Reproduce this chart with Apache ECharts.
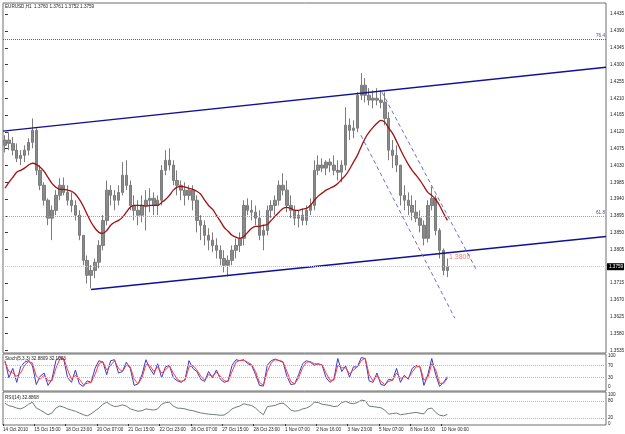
<!DOCTYPE html>
<html>
<head>
<meta charset="utf-8">
<script src="https://cdn.jsdelivr.net/npm/echarts@6/dist/echarts.min.js"></script>
<style>
  html, body { margin: 0; padding: 0; background: #fff; }
  #main { width: 625px; height: 434px; }
</style>
</head>
<body>
<div id="main"></div>
<script>
// EURUSD H1, 14 Oct - 10 Nov 2010, one point per 4 bars

const opens = [1.4084, 1.4098, 1.4089, 1.4071, 1.4049, 1.4057, 1.4071, 1.4092, 1.4124, 1.4017,
  1.3977, 1.3937, 1.3889, 1.3910, 1.3950, 1.3977, 1.3958, 1.3937, 1.3923, 1.3897,
  1.3843, 1.3776, 1.3736, 1.3749, 1.3771, 1.3816, 1.3883, 1.3964, 1.3950, 1.3937,
  1.3958, 1.4004, 1.3977, 1.3923, 1.3910, 1.3897, 1.3923, 1.3937, 1.3942, 1.3923,
  1.3937, 1.4017, 1.4044, 1.4031, 1.3990, 1.3977, 1.3964, 1.3950, 1.3964, 1.3937,
  1.3883, 1.3870, 1.3843, 1.3830, 1.3816, 1.3803, 1.3781, 1.3763, 1.3776, 1.3803,
  1.3816, 1.3835, 1.3923, 1.3910, 1.3905, 1.3889, 1.3843, 1.3856, 1.3910, 1.3923,
  1.3937, 1.3977, 1.3964, 1.3923, 1.3910, 1.3889, 1.3897, 1.3883, 1.3910, 1.3923,
  1.4017, 1.4031, 1.4023, 1.4039, 1.4031, 1.4017, 1.4012, 1.4031, 1.4138, 1.4124,
  1.4130, 1.4218, 1.4245, 1.4218, 1.4205, 1.4210, 1.4205, 1.4199, 1.4156, 1.4071,
  1.4057, 1.4031, 1.3950, 1.3937, 1.3923, 1.3905, 1.3889, 1.3870, 1.3835, 1.3923,
  1.3942, 1.3856, 1.3803, 1.3749]

const closes = [1.4098, 1.4089, 1.4071, 1.4049, 1.4057, 1.4071, 1.4092, 1.4124, 1.4017, 1.3977,
  1.3937, 1.3889, 1.3910, 1.3950, 1.3977, 1.3958, 1.3937, 1.3923, 1.3897, 1.3843,
  1.3776, 1.3736, 1.3749, 1.3771, 1.3816, 1.3883, 1.3964, 1.3950, 1.3937, 1.3958,
  1.4004, 1.3977, 1.3923, 1.3910, 1.3897, 1.3923, 1.3937, 1.3942, 1.3923, 1.3937,
  1.4017, 1.4044, 1.4031, 1.3990, 1.3977, 1.3964, 1.3950, 1.3964, 1.3937, 1.3883,
  1.3870, 1.3843, 1.3830, 1.3816, 1.3803, 1.3781, 1.3763, 1.3776, 1.3803, 1.3816,
  1.3835, 1.3923, 1.3910, 1.3905, 1.3889, 1.3843, 1.3856, 1.3910, 1.3923, 1.3937,
  1.3977, 1.3964, 1.3923, 1.3910, 1.3889, 1.3897, 1.3883, 1.3910, 1.3923, 1.4017,
  1.4031, 1.4023, 1.4039, 1.4031, 1.4017, 1.4012, 1.4031, 1.4138, 1.4124, 1.4130,
  1.4218, 1.4245, 1.4218, 1.4205, 1.4210, 1.4205, 1.4199, 1.4156, 1.4071, 1.4057,
  1.4031, 1.3950, 1.3937, 1.3923, 1.3905, 1.3889, 1.3870, 1.3835, 1.3923, 1.3942,
  1.3856, 1.3803, 1.3749, 1.3759]

const highs = [1.4111, 1.4119, 1.4106, 1.4089, 1.4071, 1.4084, 1.4103, 1.4156, 1.4130, 1.4031,
  1.3985, 1.3942, 1.3923, 1.3964, 1.3996, 1.3998, 1.3977, 1.3958, 1.3937, 1.3910,
  1.3843, 1.3789, 1.3763, 1.3781, 1.3830, 1.3897, 1.3990, 1.3977, 1.3964, 1.3977,
  1.4039, 1.4044, 1.3990, 1.3950, 1.3937, 1.3950, 1.3964, 1.3969, 1.3958, 1.3950,
  1.4031, 1.4071, 1.4076, 1.4044, 1.4017, 1.3990, 1.3985, 1.3977, 1.3977, 1.3950,
  1.3897, 1.3883, 1.3862, 1.3851, 1.3835, 1.3816, 1.3803, 1.3789, 1.3816, 1.3835,
  1.3851, 1.3937, 1.3942, 1.3937, 1.3923, 1.3910, 1.3870, 1.3923, 1.3937, 1.3950,
  1.3990, 1.4009, 1.3990, 1.3950, 1.3923, 1.3910, 1.3915, 1.3923, 1.3942, 1.4044,
  1.4057, 1.4049, 1.4044, 1.4049, 1.4057, 1.4044, 1.4044, 1.4186, 1.4156, 1.4151,
  1.4226, 1.4277, 1.4264, 1.4237, 1.4231, 1.4237, 1.4231, 1.4226, 1.4173, 1.4098,
  1.4084, 1.4031, 1.3977, 1.3958, 1.3950, 1.3937, 1.3910, 1.3883, 1.3937, 1.3974,
  1.3950, 1.3862, 1.3808, 1.3781]

const lows = [1.4065, 1.4071, 1.4057, 1.4039, 1.4031, 1.4039, 1.4057, 1.4076, 1.4004, 1.3964,
  1.3923, 1.3870, 1.3830, 1.3897, 1.3937, 1.3950, 1.3923, 1.3905, 1.3883, 1.3830,
  1.3763, 1.3714, 1.3701, 1.3728, 1.3755, 1.3803, 1.3870, 1.3923, 1.3910, 1.3923,
  1.3950, 1.3964, 1.3910, 1.3883, 1.3870, 1.3878, 1.3856, 1.3905, 1.3897, 1.3897,
  1.3923, 1.4004, 1.4017, 1.3977, 1.3950, 1.3937, 1.3923, 1.3937, 1.3910, 1.3851,
  1.3830, 1.3816, 1.3803, 1.3798, 1.3781, 1.3763, 1.3744, 1.3733, 1.3763, 1.3781,
  1.3798, 1.3816, 1.3897, 1.3883, 1.3870, 1.3830, 1.3803, 1.3843, 1.3889, 1.3897,
  1.3923, 1.3950, 1.3905, 1.3889, 1.3870, 1.3864, 1.3870, 1.3870, 1.3897, 1.3910,
  1.4004, 1.4012, 1.4004, 1.4012, 1.4004, 1.3990, 1.3985, 1.4017, 1.4098, 1.4103,
  1.4119, 1.4205, 1.4199, 1.4191, 1.4183, 1.4191, 1.4183, 1.4138, 1.4044, 1.4023,
  1.4012, 1.3923, 1.3910, 1.3897, 1.3883, 1.3878, 1.3851, 1.3816, 1.3824, 1.3910,
  1.3843, 1.3781, 1.3736, 1.3731]

// moving average (dark red)
const ma = [1.3969, 1.3985, 1.3998, 1.4012, 1.4017, 1.4023, 1.4031, 1.4036, 1.4033, 1.4025,
  1.4014, 1.3998, 1.3982, 1.3972, 1.3966, 1.3966, 1.3964, 1.3961, 1.3953, 1.3939,
  1.3921, 1.3899, 1.3878, 1.3862, 1.3851, 1.3848, 1.3856, 1.3870, 1.3878, 1.3883,
  1.3891, 1.3905, 1.3918, 1.3923, 1.3923, 1.3923, 1.3921, 1.3923, 1.3923, 1.3923,
  1.3931, 1.3939, 1.3950, 1.3964, 1.3972, 1.3974, 1.3972, 1.3969, 1.3966, 1.3961,
  1.3953, 1.3937, 1.3923, 1.3913, 1.3897, 1.3881, 1.3864, 1.3854, 1.3843, 1.3838,
  1.3835, 1.3840, 1.3851, 1.3862, 1.3867, 1.3867, 1.3870, 1.3872, 1.3883, 1.3894,
  1.3905, 1.3915, 1.3918, 1.3915, 1.3910, 1.3910, 1.3913, 1.3915, 1.3923, 1.3937,
  1.3948, 1.3956, 1.3964, 1.3969, 1.3974, 1.3982, 1.3993, 1.4004, 1.4020, 1.4039,
  1.4057, 1.4081, 1.4103, 1.4119, 1.4132, 1.4143, 1.4151, 1.4146, 1.4130, 1.4116,
  1.4095, 1.4073, 1.4052, 1.4033, 1.4017, 1.4004, 1.3990, 1.3974, 1.3958, 1.3950,
  1.3939, 1.3923, 1.3902, 1.3883]

const stochK = [85, 30, 60, 15, 65, 80, 85, 70, 8, 35,
  45, 5, 25, 85, 98, 90, 30, 15, 55, 10,
  2, 20, 15, 60, 85, 80, 40, 85, 88, 45,
  50, 80, 60, 5, 10, 40, 88, 60, 40, 75,
  30, 65, 70, 30, 20, 15, 25, 85, 60, 50,
  25, 18, 50, 30, 55, 25, 15, 20, 70, 88,
  85, 88, 75, 70, 40, 5, 3, 70, 85, 90,
  85, 80, 35, 8, 10, 40, 75, 85, 80, 70,
  75, 70, 30, 15, 25, 92, 50, 68, 32, 65,
  65, 95, 92, 20, 15, 45, 8, 5, 25, 22,
  60, 15, 38, 25, 60, 70, 65, 5, 40, 92,
  40, 2, 15, 33]

const stochD = [80, 50, 45, 35, 45, 70, 82, 78, 35, 25,
  38, 20, 20, 60, 90, 93, 55, 25, 38, 25,
  8, 12, 15, 40, 75, 82, 55, 70, 85, 60,
  50, 70, 65, 25, 10, 30, 72, 70, 50, 65,
  45, 55, 68, 45, 25, 18, 22, 65, 70, 55,
  35, 22, 40, 35, 48, 35, 20, 18, 50, 80,
  86, 86, 80, 72, 50, 15, 5, 50, 78, 88,
  86, 82, 50, 18, 10, 30, 62, 80, 82, 75,
  74, 72, 45, 22, 22, 70, 62, 62, 42, 55,
  65, 85, 93, 40, 20, 35, 18, 8, 18, 22,
  45, 28, 32, 28, 48, 65, 66, 22, 30, 75,
  55, 12, 12, 28]

const rsi = [72, 63, 60, 55, 52, 58, 68, 75, 55, 48,
  40, 32, 38, 55, 62, 58, 52, 48, 44, 38,
  32, 28, 35, 45, 55, 68, 75, 66, 60, 62,
  66, 62, 52, 48, 44, 46, 52, 50, 48, 52,
  68, 74, 75, 62, 55, 54, 52, 48, 46, 42,
  38, 36, 34, 33, 32, 30, 31, 40, 52, 58,
  62, 70, 66, 64, 55, 42, 32, 60, 62, 64,
  70, 72, 62, 48, 44, 46, 52, 55, 62, 75,
  74, 68, 66, 64, 60, 62, 74, 78, 72, 70,
  74, 82, 80, 62, 60, 58, 56, 48, 34, 36,
  38, 32, 34, 36, 38, 40, 37, 35, 52, 55,
  40, 30, 28, 33]

// time labels, one every 8 points (32 hours)
const timeLabels = ['14 Oct 2010', '15 Oct 15:00', '18 Oct 23:00', '20 Oct 07:00', '21 Oct 15:00',
  '22 Oct 23:00', '26 Oct 07:00', '27 Oct 15:00', '28 Oct 23:00', '1 Nov 07:00',
  '2 Nov 16:00', '3 Nov 23:00', '5 Nov 07:00', '8 Nov 16:00', '10 Nov 00:00']

// 1.3760 sits under the last-price box, so it is left out
const priceTicks = [1.3535, 1.3580, 1.3625, 1.3670, 1.3715, 1.3805, 1.3850, 1.3895, 1.3940,
  1.3985, 1.4030, 1.4075, 1.4120, 1.4165, 1.4210, 1.4255, 1.4300, 1.4345, 1.4390, 1.4435]
const stochTicks = [0, 30, 70, 100]
const rsiTicks = [0, 20, 80, 100]

// drawn objects, in [bar, price]
const channelUpper = [[-0.5, 1.4122], [153.5, 1.4293]]
const channelLower = [[22, 1.3698], [153.5, 1.3840]]
const dashUpper = [[96.3, 1.4226], [120.6, 1.3747]]
const dashLower = [[90.9, 1.4111], [114.9, 1.3621]]
const fibo = [{ name: '76.4', price: 1.4368 }, { name: '61.8', price: 1.3894 }]
const lastPrice = 1.3759
const note = { at: [113.4, 1.3784], text: '1.3800' }

const xMin = -0.5
const xMax = 153.5
const font = 'Liberation Sans'
const small = { fontFamily: font, fontSize: 4.6, color: '#1a1a1a' }

const chart = echarts.init(document.getElementById('main'))

const xAxisFor = (g, withLabels) => ({
  type: 'value', gridIndex: g, min: xMin, max: xMax,
  axisLine: { show: false },
  splitLine: { show: false },
  axisTick: withLabels
    ? { show: true, length: 2, customValues: timeLabels.map((_, k) => k * 8 - 0.5), lineStyle: { color: '#333' } }
    : { show: false },
  axisLabel: withLabels
    ? {
        show: true, ...small, align: 'left', margin: 2,
        customValues: timeLabels.map((_, k) => k * 8 - 0.5),
        formatter: v => timeLabels[Math.round((v + 0.5) / 8)] || ''
      }
    : { show: false }
})

const pairs = arr => arr.map((v, i) => [i, v])
const levelLines = levels => ({
  silent: true, symbol: 'none', precision: 4,
  label: { show: false },
  lineStyle: { type: 'dotted', color: '#b8b8b8', width: 1 },
  data: levels.map(v => ({ yAxis: v }))
})
const trend = (name, pts, color, type, width) => ({
  name, type: 'line', xAxisIndex: 0, yAxisIndex: 0, data: pts,
  symbol: 'none', silent: true,
  lineStyle: { color, type, width }
})

const gridBase = { left: 3, width: 603, show: true, borderColor: '#6e6e6e', borderWidth: 1, outerBoundsMode: 'none' }

chart.setOption({
  animation: false,
  backgroundColor: '#fff',
  title: [
    { text: 'EURUSD,H1  1.3760 1.3761 1.3752 1.3759', left: 5, top: 4, padding: 0, textStyle: { ...small, fontWeight: 'normal' } },
    { text: 'Stoch(5,3,3) 32.8809 32.1023', left: 5, top: 356, padding: 0, textStyle: { ...small, fontWeight: 'normal' } },
    { text: 'RSI(14) 32.8868', left: 5, top: 395, padding: 0, textStyle: { ...small, fontWeight: 'normal' } }
  ],
  grid: [
    { ...gridBase, top: 3, height: 350 },
    { ...gridBase, top: 354, height: 37 },
    { ...gridBase, top: 392, height: 33 }
  ],
  xAxis: [xAxisFor(0, false), xAxisFor(1, false), xAxisFor(2, true)],
  yAxis: [
    {
      type: 'value', gridIndex: 0, position: 'right', min: 1.3528, max: 1.4465,
      axisLine: { show: false }, splitLine: { show: false },
      axisTick: { show: true, length: 3, customValues: priceTicks, lineStyle: { color: '#333' } },
      axisLabel: { ...small, margin: 4, customValues: priceTicks, formatter: v => v.toFixed(4) }
    },
    {
      type: 'value', gridIndex: 1, position: 'right', min: -12.9, max: 106.5,
      axisLine: { show: false }, splitLine: { show: false }, axisTick: { show: false },
      axisLabel: { ...small, margin: 2, customValues: stochTicks }
    },
    {
      type: 'value', gridIndex: 2, position: 'right', min: -3.4, max: 110.3,
      axisLine: { show: false }, splitLine: { show: false }, axisTick: { show: false },
      axisLabel: { ...small, margin: 2, customValues: rsiTicks }
    }
  ],
  series: [
    {
      name: 'levels', type: 'line', xAxisIndex: 0, yAxisIndex: 0, data: [],
      markLine: {
        silent: true, symbol: 'none', precision: 4,
        data: [
          ...fibo.map(f => ({
            yAxis: f.price,
            lineStyle: { type: 'dotted', color: f.name === '76.4' ? '#5a5aa0' : '#a0a0a0', width: 1 },
            label: { show: true, position: 'insideEndTop', distance: [1, 1], formatter: f.name, ...small, color: '#4a4aa0' }
          })),
          {
            yAxis: lastPrice,
            lineStyle: { type: 'dotted', color: '#c4c4c4', width: 1 },
            label: {
              show: true, position: 'end', distance: 1, formatter: lastPrice.toFixed(4),
              ...small, color: '#fff', backgroundColor: '#000', padding: [1, 1, 1, 2]
            }
          }
        ]
      }
    },
    {
      name: 'EURUSD', type: 'candlestick', xAxisIndex: 0, yAxisIndex: 0,
      data: opens.map((o, i) => [i, o, closes[i], lows[i], highs[i]]),
      encode: { x: 0, y: [1, 2, 3, 4] },
      barWidth: 3,
      itemStyle: { color: '#8a8a8a', color0: '#8a8a8a', borderColor: '#7c7c7c', borderColor0: '#7c7c7c', borderWidth: 1 }
    },
    {
      name: 'MA', type: 'line', xAxisIndex: 0, yAxisIndex: 0, data: pairs(ma),
      symbol: 'none', smooth: 0.3, lineStyle: { color: '#a01010', width: 1.3 }
    },
    trend('channel top', channelUpper, '#10109a', 'solid', 1.5),
    trend('channel bottom', channelLower, '#10109a', 'solid', 1.5),
    trend('fall top', dashUpper, '#7070cc', [4, 3], 1),
    trend('fall bottom', dashLower, '#7070cc', [4, 3], 1),
    {
      name: 'note', type: 'scatter', xAxisIndex: 0, yAxisIndex: 0, data: [note.at],
      symbolSize: 0, silent: true,
      label: { show: true, position: 'right', distance: 0, formatter: note.text, fontFamily: font, fontSize: 7, color: '#ff5a5a' }
    },
    {
      name: 'Stoch main', type: 'line', xAxisIndex: 1, yAxisIndex: 1, data: pairs(stochK),
      symbol: 'none', lineStyle: { color: '#3a3ad0', width: 1 },
      markLine: levelLines([30, 70])
    },
    {
      name: 'Stoch signal', type: 'line', xAxisIndex: 1, yAxisIndex: 1, data: pairs(stochD),
      symbol: 'none', lineStyle: { color: '#ff3a3a', width: 1 }
    },
    {
      name: 'RSI', type: 'line', xAxisIndex: 2, yAxisIndex: 2, data: pairs(rsi),
      symbol: 'none', lineStyle: { color: '#6f7c72', width: 1 },
      markLine: levelLines([20, 80])
    }
  ]
})
</script>
</body>
</html>
